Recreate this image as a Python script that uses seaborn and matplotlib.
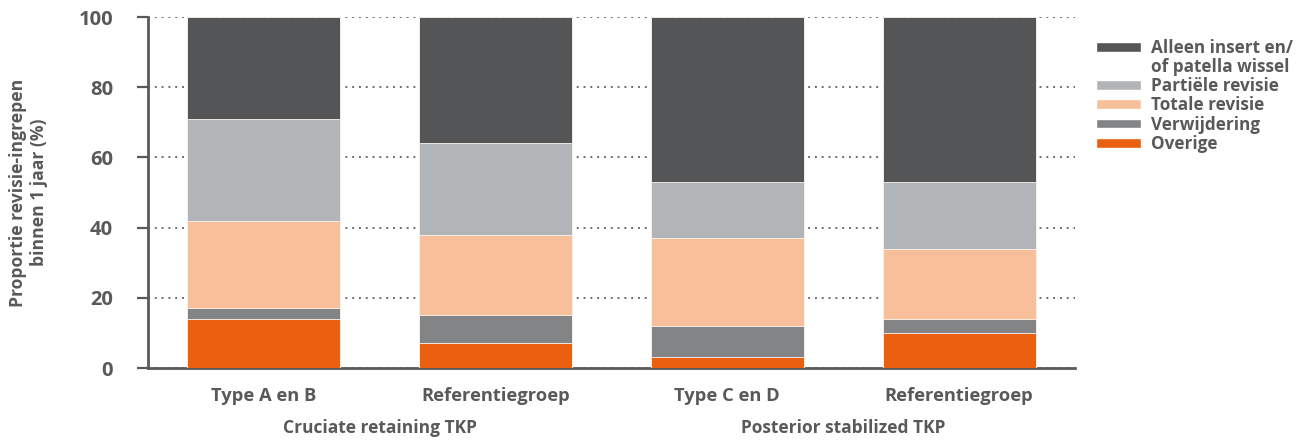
import matplotlib
matplotlib.use("Agg")
import matplotlib.pyplot as plt
from matplotlib.patches import Patch
import numpy as np
import pandas as pd
import seaborn as sns

# Revision procedures within 1 year, share per category (%)
groups = ["Type A en B", "Referentiegroep", "Type C en D", "Referentiegroep "]
group_labels = ["Type A en B", "Referentiegroep", "Type C en D", "Referentiegroep"]
overige = [14, 7, 3, 10]
verwijdering = [3, 8, 9, 4]
totale_revisie = [25, 23, 25, 20]
partiele_revisie = [29, 26, 16, 19]
alleen_insert = [29, 36, 47, 47]

series_names = ["Overige", "Verwijdering", "Totale revisie", "Partiële revisie",
                "Alleen insert en/\nof patella wissel"]
series_values = [overige, verwijdering, totale_revisie, partiele_revisie, alleen_insert]
series_colors = ["#eb6010", "#838485", "#f8bf9b", "#b2b5b8", "#545556"]

super_groups = ["Cruciate retaining TKP", "Posterior stabilized TKP"]

TEXT = "#58595b"

sns.set_theme(style="white")
plt.rcParams["font.family"] = ["Open Sans", "DejaVu Sans"]
plt.rcParams["font.weight"] = "semibold"

df = pd.DataFrame({"groep": groups})
cum = np.zeros(len(groups))
cum_cols = []
for name, vals in zip(series_names, series_values):
    cum = cum + np.array(vals)
    df[name] = cum
    cum_cols.append(name)

fig = plt.figure(figsize=(13.07, 4.42), dpi=100)
ax = fig.add_axes([0.1132, 0.1674, 0.8225 - 0.1132, 0.9615 - 0.1674])

# Stacked bars: draw the cumulative totals from the top layer down
for name, color in reversed(list(zip(cum_cols, series_colors))):
    sns.barplot(data=df, x="groep", y=name, color=color, width=0.66,
                saturation=1, ax=ax, edgecolor="#fdf6f0", linewidth=0.6,
                zorder=3)

ax.set_xlim(-0.5, 3.5)
ax.set_ylim(0, 100)
ax.set_yticks([0, 20, 40, 60, 80, 100])
ax.set_xticks(range(len(groups)))
ax.set_xticklabels(group_labels)
ax.yaxis.grid(True, linestyle=(0, (1, 2.5)), color="#6d6e70", linewidth=1.4, zorder=0)
ax.xaxis.grid(False)
ax.set_axisbelow(True)

for s in ["top", "right"]:
    ax.spines[s].set_visible(False)
for s in ["left", "bottom"]:
    ax.spines[s].set_color(TEXT)
    ax.spines[s].set_linewidth(2)

ax.tick_params(axis="y", which="major", left=True, length=8, width=1.6,
               color=TEXT, labelcolor=TEXT, labelsize=14.5, pad=17)
ax.tick_params(axis="x", which="major", bottom=False, labelcolor=TEXT,
               labelsize=13.2, pad=8)
for lab in ax.get_yticklabels() + ax.get_xticklabels():
    lab.set_fontweight("bold")

ax.set_xlabel("")
ax.set_ylabel("Proportie revisie-ingrepen\nbinnen 1 jaar (%)", color=TEXT,
              fontsize=12.6, fontweight="bold", labelpad=22, linespacing=1.25)

# Group captions under each pair of bars
for i, label in enumerate(super_groups):
    ax.text(2 * i + 0.5, -0.17, label, transform=ax.get_xaxis_transform(),
            ha="center", va="center", fontsize=12.5, fontweight="bold", color=TEXT)

# Legend: top layer first, second line of the first entry gets its own row
handles = [
    Patch(facecolor=series_colors[4]),
    Patch(facecolor="none", edgecolor="none"),
    Patch(facecolor=series_colors[3]),
    Patch(facecolor=series_colors[2]),
    Patch(facecolor=series_colors[1]),
    Patch(facecolor=series_colors[0]),
]
labels = ["Alleen insert en/", "of patella wissel", "Partiële revisie",
          "Totale revisie", "Verwijdering", "Overige"]
leg = fig.legend(handles, labels, loc="upper left", bbox_to_anchor=(0.827, 0.947),
                 frameon=False, fontsize=12.3, handlelength=2.6, handleheight=0.5,
                 handletextpad=0.6, labelspacing=0.07)
for t in leg.get_texts():
    t.set_color(TEXT)
    t.set_fontweight("bold")

fig.savefig("out.png", dpi=100, facecolor="white")
